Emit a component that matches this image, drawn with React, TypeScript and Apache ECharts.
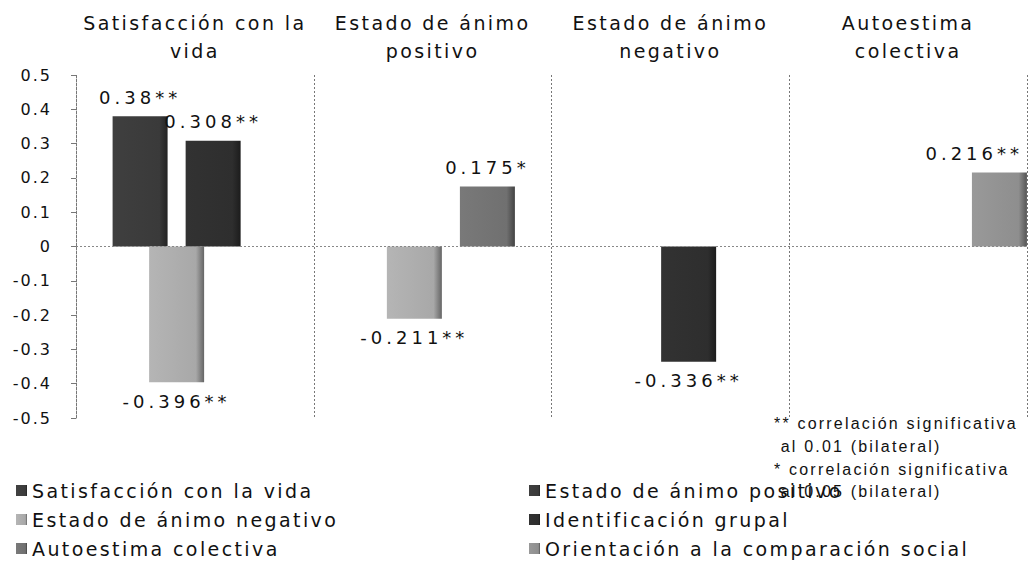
import React, { useEffect, useRef } from "react";
import * as echarts from "echarts";

const categories = [
  "Satisfacción con la\nvida",
  "Estado de ánimo\npositivo",
  "Estado de ánimo\nnegativo",
  "Autoestima\ncolectiva",
];
const seriesNames = [
  "Satisfacción con la vida",
  "Estado de ánimo positivo",
  "Estado de ánimo negativo",
  "Identificación grupal",
  "Autoestima colectiva",
  "Orientación a la comparación social",
];
const satisfaccion: (number | null)[] = [null, null, null, null];
const positivo: (number | null)[] = [0.38, null, null, null];
const negativo: (number | null)[] = [-0.396, -0.211, null, null];
const identificacion: (number | null)[] = [0.308, null, -0.336, null];
const autoestima: (number | null)[] = [null, 0.175, null, null];
const orientacion: (number | null)[] = [null, null, null, 0.216];
const sigSatisfaccion = ["", "", "", ""];
const sigPositivo = ["**", "", "", ""];
const sigNegativo = ["**", "**", "", ""];
const sigIdentificacion = ["**", "", "**", ""];
const sigAutoestima = ["", "*", "", ""];
const sigOrientacion = ["", "", "", "**"];
const yTicks = [0.5, 0.4, 0.3, 0.2, 0.1, 0, -0.1, -0.2, -0.3, -0.4, -0.5];
const noteLines = [
  "** correlación significativa",
  " al 0.01 (bilateral)",
  "* correlación significativa",
  " al 0.05 (bilateral)",
];

const allValues = [satisfaccion, positivo, negativo, identificacion, autoestima, orientacion];
const allSig = [sigSatisfaccion, sigPositivo, sigNegativo, sigIdentificacion, sigAutoestima, sigOrientacion];
const baseColors = ["#3c3c3c", "#3a3a3a", "#a8a8a8", "#2e2e2e", "#707070", "#8e8e8e"];

const FONT = "DejaVu Sans";
const NOTE_FONT = "Liberation Sans";

function shade(hex: string, f: number) {
  const n = parseInt(hex.slice(1), 16);
  const r = Math.max(0, Math.min(255, Math.round(((n >> 16) & 255) * f)));
  const g = Math.max(0, Math.min(255, Math.round(((n >> 8) & 255) * f)));
  const b = Math.max(0, Math.min(255, Math.round((n & 255) * f)));
  return `rgb(${r},${g},${b})`;
}

function applySpacing(root: HTMLElement) {
  root.querySelectorAll("text").forEach((t) => {
    const cs = getComputedStyle(t);
    const size = parseFloat(cs.fontSize);
    const fam = cs.fontFamily || "";
    let sp = 0;
    if (fam.indexOf("Liberation") >= 0) sp = 2.2;
    else if (size >= 18.5) sp = 2.4;
    else if (size >= 17.5) sp = 4;
    else if (size >= 15.5) sp = 2;
    if (sp) t.setAttribute("letter-spacing", String(sp));
  });
}

export default function App() {
  const ref = useRef<HTMLDivElement>(null);
  useEffect(() => {
    if (!ref.current) return;
    const el = ref.current;
    const chart = echarts.init(el, undefined, { renderer: "svg" });
    const W = 1031;
    const series: any[] = allValues.map((vals, si) => ({
      name: seriesNames[si],
      type: "bar",
      barWidth: 55,
      barGap: "-33.6%",
      itemStyle: {
        color: new echarts.graphic.LinearGradient(0, 0, 1, 0, [
          { offset: 0, color: shade(baseColors[si], 1.08) },
          { offset: 0.85, color: baseColors[si] },
          { offset: 1, color: shade(baseColors[si], 0.6) },
        ]),
      },
      labelLayout: (p: any) => {
        const r = p.labelRect;
        const extra = 8 * 4; // letter-spacing adds width not measured by the layout
        const over = r.x + r.width + extra / 2 - (W - 6);
        return over > 0 ? { dx: -over } : {};
      },
      data: vals.map((v, ci) => ({
        value: v,
        label: {
          show: v !== null,
          position: v !== null && v < 0 ? "bottom" : "top",
          distance: 10,
          formatter: () => `${v}${allSig[si][ci]}`,
          fontFamily: FONT,
          fontSize: 18,
          color: "#111",
        },
      })),
    }));
    series[1].markLine = {
      silent: true,
      symbol: "none",
      label: { show: false },
      lineStyle: { color: "#888", type: [2, 2], width: 1 },
      data: [{ yAxis: 0 }],
    };
    chart.on("finished", () => applySpacing(el));
    chart.setOption({
      animation: false,
      backgroundColor: "#fff",
      grid: { left: 76, right: 4, top: 75, bottom: 161, containLabel: false },
      xAxis: {
        type: "category",
        position: "top",
        data: categories,
        axisLine: { show: false },
        axisTick: { show: false },
        axisLabel: {
          interval: 0,
          fontFamily: FONT,
          fontSize: 19,
          lineHeight: 28,
          color: "#111",
          margin: 10,
        },
        splitLine: {
          show: true,
          interval: 0,
          lineStyle: { color: "#777", type: [2, 2], width: 1 },
        },
      },
      yAxis: {
        type: "value",
        min: -0.5,
        max: 0.5,
        interval: 0.1,
        axisLine: { show: true, lineStyle: { color: "#777", type: [2, 2], width: 1 } },
        axisTick: { show: true, length: 5, lineStyle: { color: "#777" } },
        splitLine: { show: false },
        axisLabel: {
          fontFamily: FONT,
          fontSize: 16,
          color: "#111",
          margin: 24,
          formatter: (v: number) => {
            const t = yTicks.find((y) => Math.abs(y - v) < 1e-9);
            const val = t === undefined ? v : t;
            return val === 0 ? "0" : val.toFixed(1);
          },
        },
      },
      legend: [
        {
          data: [seriesNames[0], seriesNames[2], seriesNames[4]],
          orient: "vertical",
          left: 11,
          top: 476,
          itemWidth: 11,
          itemHeight: 11,
          itemGap: 10,
          icon: "rect",
          textStyle: { fontFamily: FONT, fontSize: 19, color: "#111" },
        },
        {
          data: [seriesNames[1], seriesNames[3], seriesNames[5]],
          orient: "vertical",
          left: 524,
          top: 476,
          itemWidth: 11,
          itemHeight: 11,
          itemGap: 10,
          icon: "rect",
          textStyle: { fontFamily: FONT, fontSize: 19, color: "#111" },
        },
      ],
      graphic: noteLines.map((t, i) => ({
        type: "text",
        left: 774,
        top: 415 + [0, 23, 46, 68][i],
        z: 100,
        style: {
          text: t,
          fontFamily: NOTE_FONT,
          fontSize: 16,
          fill: "#111",
        },
      })),
      series,
    });
    applySpacing(el);
    const raf = requestAnimationFrame(() => applySpacing(el));
    return () => {
      cancelAnimationFrame(raf);
      chart.dispose();
    };
  }, []);
  return (
    <div
      ref={ref}
      style={{ position: "fixed", left: 0, top: 0, width: 1031, height: 579 }}
    />
  );
}
